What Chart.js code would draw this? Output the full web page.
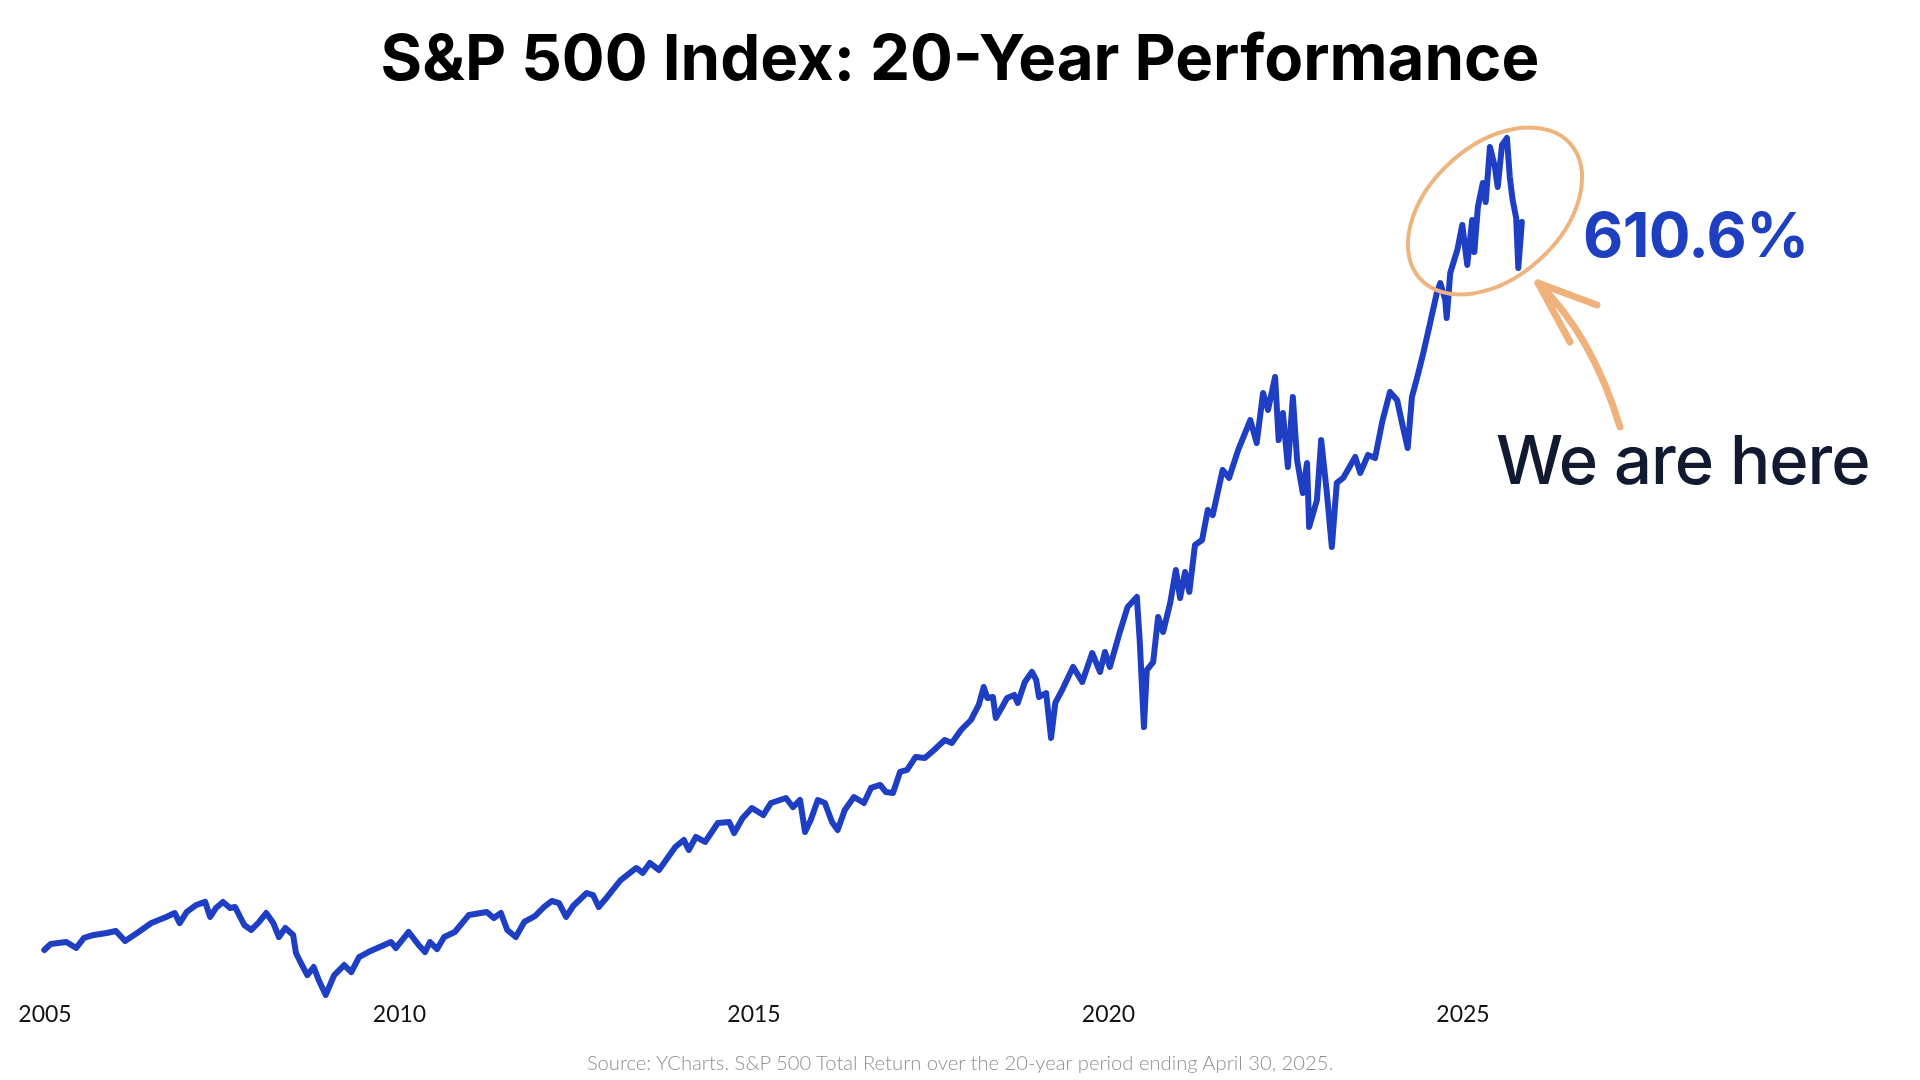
<!DOCTYPE html>
<html>
<head>
<meta charset="utf-8">
<script src="https://cdn.jsdelivr.net/npm/chart.js@4.4.1/dist/chart.umd.min.js"></script>
<style>
  html, body { margin: 0; padding: 0; background: #ffffff; }
  #wrap { position: relative; width: 1920px; height: 1080px; overflow: hidden; }
  #c { position: absolute; left: 0; top: 0; }
  #overlay { position: absolute; left: 0; top: 0; pointer-events: none; }
</style>
</head>
<body>
<div id="wrap">
  <canvas id="c" width="1920" height="1080"></canvas>
  <svg id="overlay" width="1920" height="1080" xmlns="http://www.w3.org/2000/svg">
    <text x="960" y="80" text-anchor="middle" font-family="Inter" font-weight="700" font-size="63.6" fill="#000000">S&amp;P 500 Index: 20-Year Performance</text>
    <ellipse cx="1495" cy="211" rx="101" ry="66" transform="rotate(-42 1495 211)" fill="none" stroke="#eeb47f" stroke-width="4"/>
    <path d="M1620,427 Q1592,335 1538,283" fill="none" stroke="#efb27c" stroke-width="7" stroke-linecap="round"/>
    <path d="M1597,305 L1538,283 L1570,342" fill="none" stroke="#efb27c" stroke-width="7" stroke-linecap="round" stroke-linejoin="round"/>
    <text x="1583" y="257" font-family="Inter" font-weight="700" font-size="62" letter-spacing="-0.6" fill="#1e3fc0">610.6%</text>
    <text x="1496" y="484" font-family="Inter" font-weight="500" font-size="67" letter-spacing="-1" fill="#111a30">We are here</text>
    <text x="960" y="1070" text-anchor="middle" font-family="Lato" font-weight="300" font-size="20.2" fill="#8f8f8f">Source: YCharts. S&amp;P 500 Total Return over the 20-year period ending April 30, 2025.</text>
  </svg>
</div>
<script>
// Time axis (decimal years, as placed on the chart's own year scale)
const years = [
  2004.99, 2005.08, 2005.30, 2005.44, 2005.55, 2005.69, 2005.87, 2006.00, 2006.13, 2006.30,
  2006.50, 2006.71, 2006.83, 2006.90, 2007.00, 2007.13, 2007.26, 2007.33, 2007.41, 2007.51,
  2007.61, 2007.68, 2007.81, 2007.91, 2008.02, 2008.12, 2008.22, 2008.30, 2008.39, 2008.50,
  2008.54, 2008.61, 2008.70, 2008.79, 2008.86, 2008.96, 2009.08, 2009.22, 2009.32, 2009.43,
  2009.56, 2009.72, 2009.88, 2009.95, 2010.13, 2010.27, 2010.36, 2010.43, 2010.53, 2010.63,
  2010.78, 2010.98, 2011.23, 2011.33, 2011.43, 2011.52, 2011.64, 2011.76, 2011.91, 2012.04,
  2012.15, 2012.25, 2012.35, 2012.45, 2012.64, 2012.73, 2012.81, 2012.93, 2013.12, 2013.34,
  2013.43, 2013.53, 2013.66, 2013.73, 2013.89, 2014.01, 2014.08, 2014.18, 2014.31, 2014.49,
  2014.65, 2014.72, 2014.84, 2014.97, 2015.13, 2015.24, 2015.45, 2015.55, 2015.65, 2015.72,
  2015.80, 2015.90, 2016.00, 2016.10, 2016.18, 2016.28, 2016.41, 2016.55, 2016.65, 2016.78,
  2016.86, 2016.96, 2017.06, 2017.16, 2017.28, 2017.41, 2017.54, 2017.69, 2017.79, 2017.92,
  2018.06, 2018.17, 2018.24, 2018.29, 2018.37, 2018.41, 2018.50, 2018.57, 2018.67, 2018.72,
  2018.82, 2018.92, 2018.98, 2019.02, 2019.12, 2019.19, 2019.25, 2019.36, 2019.50, 2019.63,
  2019.77, 2019.88, 2019.95, 2020.02, 2020.16, 2020.27, 2020.40, 2020.44, 2020.50, 2020.54,
  2020.63, 2020.70, 2020.77, 2020.87, 2020.95, 2021.01, 2021.08, 2021.14, 2021.22, 2021.32,
  2021.40, 2021.47, 2021.57, 2021.61, 2021.70, 2021.83, 2022.00, 2022.09, 2022.18, 2022.25,
  2022.35, 2022.40, 2022.46, 2022.53, 2022.60, 2022.66, 2022.74, 2022.80, 2022.83, 2022.94,
  2023.00, 2023.08, 2023.15, 2023.22, 2023.31, 2023.48, 2023.55, 2023.66, 2023.76, 2023.86,
  2023.97, 2024.07, 2024.14, 2024.22, 2024.28, 2024.37, 2024.44, 2024.53, 2024.63, 2024.68,
  2024.75, 2024.77, 2024.82, 2024.92, 2024.99, 2025.06, 2025.13, 2025.16, 2025.21, 2025.28,
  2025.32, 2025.38, 2025.45, 2025.49, 2025.55, 2025.62, 2025.66, 2025.70, 2025.75, 2025.78,
  2025.83
];

// Cumulative total return, percent (ends at 610.6%)
const totalReturnPct = [
  0.0, 5.0, 6.7, 1.7, 10.1, 12.6, 14.3, 15.9, 7.5, 14.3,
  22.6, 27.7, 31.0, 22.6, 31.9, 37.7, 40.3, 27.7, 35.2, 40.3,
  35.2, 36.1, 21.0, 16.8, 23.5, 31.0, 22.6, 10.9, 18.5, 12.6,
  -2.5, -10.9, -21.0, -14.3, -25.2, -37.7, -21.0, -12.6, -18.5, -5.9,
  -1.7, 2.5, 6.7, 1.7, 15.1, 4.2, -1.7, 6.7, 0.8, 10.9,
  15.1, 29.4, 31.9, 26.8, 31.0, 16.8, 10.9, 23.5, 28.5, 36.1,
  41.1, 39.4, 27.7, 36.9, 47.8, 46.1, 36.1, 44.5, 58.7, 68.8,
  64.6, 73.0, 67.1, 73.0, 86.4, 92.3, 83.9, 94.8, 90.6, 106.5,
  107.4, 98.1, 110.7, 119.1, 113.2, 123.3, 127.5, 119.9, 125.8, 99.0,
  109.0, 125.8, 123.3, 107.4, 100.6, 117.4, 128.3, 123.3, 135.9, 138.4,
  132.5, 131.7, 149.3, 151.0, 161.9, 161.0, 167.7, 176.1, 173.6, 184.5,
  192.9, 205.5, 220.6, 211.4, 212.2, 194.6, 203.8, 211.4, 213.9, 207.2,
  224.8, 233.2, 226.5, 212.2, 215.5, 177.8, 207.2, 219.7, 237.4, 224.8,
  249.1, 233.2, 249.9, 237.4, 266.7, 287.7, 296.1, 260.0, 187.0, 234.8,
  241.5, 279.3, 266.7, 291.0, 318.7, 295.2, 317.0, 300.3, 339.7, 343.9,
  369.0, 364.8, 391.7, 402.6, 395.9, 419.4, 444.5, 425.2, 467.2, 452.9,
  480.6, 427.7, 450.4, 405.1, 463.8, 411.0, 383.3, 408.5, 354.8, 377.4,
  427.7, 383.3, 338.0, 391.7, 395.9, 413.5, 400.1, 415.2, 412.6, 442.8,
  468.0, 461.3, 442.0, 421.0, 463.8, 483.9, 500.7, 524.2, 551.0, 559.4,
  545.2, 530.1, 567.8, 587.1, 608.1, 574.5, 612.3, 585.4, 623.2, 643.3,
  627.4, 673.5, 656.7, 639.9, 675.2, 681.0, 648.3, 629.0, 613.9, 572.0,
  610.6
];

// Tick labels on the time axis
const tickYears = [2005, 2010, 2015, 2020, 2025];

const points = years.map((x, i) => ({ x: x, y: totalReturnPct[i] }));

new Chart(document.getElementById('c'), {
  type: 'line',
  data: {
    datasets: [{
      label: 'S&P 500 Total Return',
      data: points,
      borderColor: '#1e3fc4',
      borderWidth: 6,
      pointRadius: 0,
      tension: 0,
      fill: false,
      clip: false,
      borderJoinStyle: 'round',
      borderCapStyle: 'round'
    }]
  },
  options: {
    responsive: false,
    animation: false,
    devicePixelRatio: 1,
    layout: { padding: { left: 37.9, right: 102.5, top: 110.6, bottom: 44.1 } },
    plugins: { legend: { display: false }, tooltip: { enabled: false }, title: { display: false } },
    scales: {
      x: {
        type: 'linear',
        min: 2004.9,
        max: 2030,
        grid: { display: false, drawTicks: false },
        border: { display: false },
        afterBuildTicks: (scale) => { scale.ticks = tickYears.map(v => ({ value: v })); },
        afterFit: (scale) => { scale.height = 40; },
        ticks: {
          padding: 5,
          color: '#111111',
          font: { family: 'Lato', size: 23, weight: '400' },
          maxRotation: 0,
          autoSkip: false,
          callback: (v) => String(v)
        }
      },
      y: {
        display: false,
        min: -38.5,
        max: 704
      }
    }
  }
});
</script>
</body>
</html>
